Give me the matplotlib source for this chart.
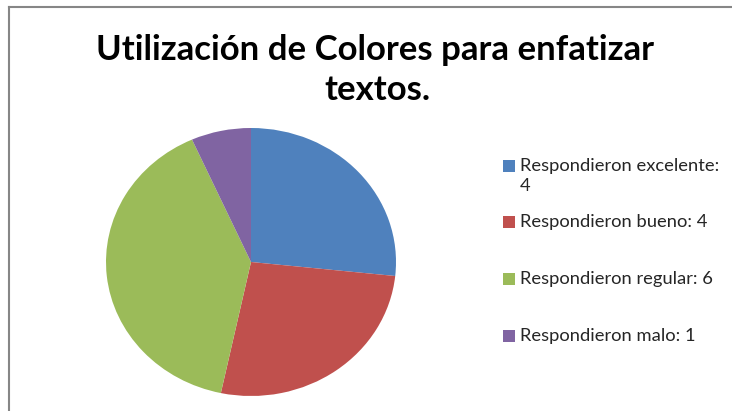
import matplotlib
matplotlib.use("Agg")
import matplotlib.pyplot as plt
from matplotlib.patches import Rectangle
from matplotlib.lines import Line2D

title_lines = ["Utilización de Colores para enfatizar", "textos."]
categories = ["Respondieron excelente", "Respondieron bueno",
              "Respondieron regular", "Respondieron malo"]
values = [4, 4, 6, 1]
colors = ["#4F81BD", "#C0504D", "#9BBB59", "#8064A2"]

W, H = 732, 411
DPI = 100
fig = plt.figure(figsize=(W / DPI, H / DPI), dpi=DPI)
fig.patch.set_facecolor("white")


def fx(px):
    return px / W


def fy(py):
    return 1 - py / H


# chart area frame (left and top edges visible)
frame_col = "#868686"
fig.add_artist(Line2D([fx(9), fx(9)], [fy(7), fy(H + 5)], color=frame_col, lw=1.5,
                      transform=fig.transFigure))
fig.add_artist(Line2D([fx(9), fx(W + 5)], [fy(7), fy(7)], color=frame_col, lw=1.5,
                      transform=fig.transFigure))

# title
fig.text(fx(375), fy(50), title_lines[0], ha="center", va="center",
         fontsize=25, fontweight="bold", family="Lato", color="black")
fig.text(fx(377), fy(90), title_lines[1], ha="center", va="center",
         fontsize=25, fontweight="bold", family="Lato", color="black")

# pie (slightly stretched horizontally)
left, right, top, bottom = 106, 396, 128, 396
ax = fig.add_axes([fx(left), fy(bottom), fx(right - left), (bottom - top) / H])
ax.pie(values, colors=colors, startangle=90, counterclock=False,
       wedgeprops=dict(linewidth=0), radius=1)
ax.set_aspect("auto")
ax.set_xlim(-1, 1)
ax.set_ylim(-1, 1)
ax.axis("off")

# legend
fs = 13.2
leg_rows = [(166, 186), (222, None), (279, None), (336, None)]
for (cat, val, col, (y1, y2)) in zip(categories, values, colors, leg_rows):
    s = 12
    fig.add_artist(Rectangle((fx(503), fy(y1 + s / 2)), s / W, s / H,
                             facecolor=col, edgecolor="none",
                             transform=fig.transFigure))
    if y2 is None:
        fig.text(fx(520), fy(y1), f"{cat}: {val}", ha="left", va="center",
                 fontsize=fs, family="Lato", color="#262626")
    else:
        fig.text(fx(520), fy(y1), f"{cat}:", ha="left", va="center",
                 fontsize=fs, family="Lato", color="#262626")
        fig.text(fx(520), fy(y2), f"{val}", ha="left", va="center",
                 fontsize=fs, family="Lato", color="#262626")

fig.savefig("out.png", dpi=DPI)
